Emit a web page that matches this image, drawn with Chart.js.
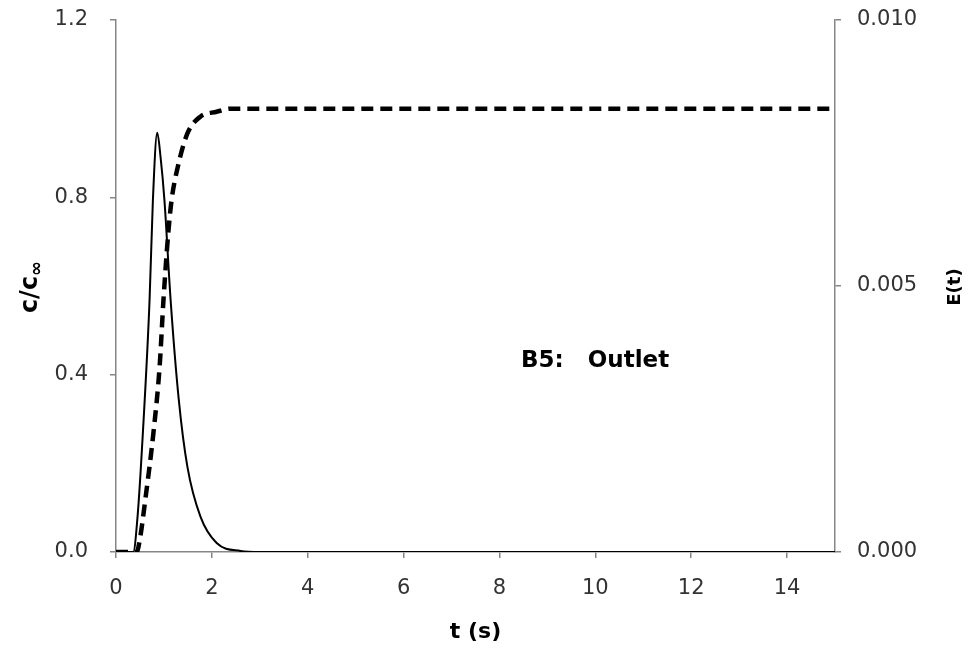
<!DOCTYPE html>
<html>
<head>
<meta charset="utf-8">
<script src="https://cdn.jsdelivr.net/npm/chart.js@4/dist/chart.umd.min.js"></script>
<style>
  html, body { margin: 0; padding: 0; background: #fff; }
  #wrap { width: 970px; height: 655px; position: relative; }
</style>
</head>
<body>
<div id="wrap"><canvas id="chart"></canvas></div>
<script>
// concentration step response c/c∞ (left axis)
var cTime  = [0, 0.43, 0.5, 0.61, 0.78, 0.91, 0.99, 1.09, 1.16, 1.29, 1.49, 1.76, 2.1, 2.4, 15];
var cRatio = [0, 0, 0.03, 0.117, 0.268, 0.418, 0.568, 0.719, 0.794, 0.869, 0.944, 0.982, 0.993, 1.0, 1.0];

// residence time distribution E(t) (right axis)
var eTime  = [0, 0.36, 0.45, 0.56, 0.70, 0.77, 0.86, 0.93, 1.01, 1.14, 1.31, 1.49, 1.76, 2.1, 2.6, 3, 15];
var eValue = [0, 0, 0.00067, 0.00223, 0.00473, 0.00662, 0.00788, 0.00742, 0.00662, 0.00473, 0.00286, 0.00160, 0.00067, 0.00017, 0.00002, 0, 0];

var xTicks = [0, 2, 4, 6, 8, 10, 12, 14];
var leftTicks = [0, 0.4, 0.8, 1.2];
var rightTicks = [0, 0.005, 0.010];

var axisGray = '#868686';
var labelColor = '#333333';
var fontFamily = '"DejaVu Sans", sans-serif';

function toPoints(xs, ys) {
    var pts = [];
    for (var i = 0; i < xs.length; i++) {
        pts.push({ x: xs[i], y: ys[i] });
    }
    return pts;
}

function fixedTicks(list) {
    return function (scale) {
        scale.ticks = list.map(function (v) { return { value: v }; });
    };
}

// fixed axis width, and no extra room above/below for the tick labels
function fitVertical(width) {
    return function (scale) {
        scale.width = width;
        scale.paddingTop = 0;
        scale.paddingBottom = 0;
    };
}

// axis titles and the in-plot note, drawn by hand
var titlesPlugin = {
    id: 'titles',
    afterDraw: function (chart) {
        var ctx = chart.ctx;
        var area = chart.chartArea;
        var xs = chart.scales.x;
        var ys = chart.scales.y;

        ctx.save();
        ctx.fillStyle = '#000';

        // left title: c/c∞, read bottom to top
        ctx.save();
        ctx.translate(37, 287);
        ctx.rotate(-Math.PI / 2);
        ctx.textBaseline = 'alphabetic';
        ctx.textAlign = 'left';
        var main = 'c/c';
        ctx.font = 'bold 24px ' + fontFamily;
        var wMain = ctx.measureText(main).width;
        ctx.font = 'bold 18px ' + fontFamily;
        var wSub = ctx.measureText('\u221E').width;
        var start = -(wMain + wSub) / 2;
        ctx.font = 'bold 24px ' + fontFamily;
        ctx.fillText(main, start, 0);
        ctx.font = 'bold 18px ' + fontFamily;
        ctx.fillText('\u221E', start + wMain, 5);
        ctx.restore();

        // right title: E(t), also read bottom to top
        ctx.save();
        ctx.translate(960, 287);
        ctx.rotate(-Math.PI / 2);
        ctx.font = 'bold 18px ' + fontFamily;
        ctx.textAlign = 'center';
        ctx.textBaseline = 'alphabetic';
        ctx.fillText('E(t)', 0, 0);
        ctx.restore();

        // bottom title
        ctx.font = 'bold 22px ' + fontFamily;
        ctx.textAlign = 'center';
        ctx.textBaseline = 'middle';
        ctx.fillText('t (s)', (area.left + area.right) / 2, 632);

        // note inside the plot
        ctx.font = 'bold 23px ' + fontFamily;
        ctx.textAlign = 'left';
        ctx.textBaseline = 'alphabetic';
        ctx.fillText('B5:   Outlet', xs.getPixelForValue(8.45), ys.getPixelForValue(0.417));

        ctx.restore();
    }
};

var ctx = document.getElementById('chart');

new Chart(ctx, {
    type: 'scatter',
    data: {
        datasets: [{
            label: 'c/c\u221E',
            data: toPoints(cTime, cRatio),
            yAxisID: 'y',
            showLine: true,
            borderColor: '#000',
            borderWidth: 4.5,
            borderDash: [12, 7],
            pointRadius: 0,
            cubicInterpolationMode: 'monotone',
            fill: false
        }, {
            label: 'E(t)',
            data: toPoints(eTime, eValue),
            yAxisID: 'y2',
            showLine: true,
            borderColor: '#000',
            borderWidth: 2,
            pointRadius: 0,
            cubicInterpolationMode: 'monotone',
            fill: false
        }]
    },
    options: {
        responsive: true,
        maintainAspectRatio: false,
        animation: false,
        layout: { padding: { top: 20, left: 0, right: 0, bottom: 0 } },
        plugins: {
            legend: { display: false },
            tooltip: { enabled: false }
        },
        scales: {
            x: {
                type: 'linear',
                min: 0,
                max: 15,
                afterBuildTicks: fixedTicks(xTicks),
                afterFit: function (scale) { scale.height = 103; },
                border: { color: axisGray, width: 1.5 },
                grid: { drawOnChartArea: false, color: axisGray, tickLength: 6, lineWidth: 1.5 },
                ticks: {
                    color: labelColor,
                    padding: 18,
                    maxRotation: 0,
                    font: { family: fontFamily, size: 21 },
                    callback: function (v) { return String(v); }
                }
            },
            y: {
                type: 'linear',
                position: 'left',
                min: 0,
                max: 1.2,
                afterBuildTicks: fixedTicks(leftTicks),
                afterFit: fitVertical(116),
                border: { color: axisGray, width: 1.5 },
                grid: { drawOnChartArea: false, color: axisGray, tickLength: 6, lineWidth: 1.5 },
                ticks: {
                    color: labelColor,
                    padding: 22,
                    font: { family: fontFamily, size: 21 },
                    callback: function (v) { return Number(v).toFixed(1); }
                }
            },
            y2: {
                type: 'linear',
                position: 'right',
                min: 0,
                max: 0.010,
                afterBuildTicks: fixedTicks(rightTicks),
                afterFit: fitVertical(135),
                border: { color: axisGray, width: 1.5 },
                grid: { drawOnChartArea: false, color: axisGray, tickLength: 6, lineWidth: 1.5 },
                ticks: {
                    color: labelColor,
                    padding: 16,
                    font: { family: fontFamily, size: 21 },
                    callback: function (v) { return Number(v).toFixed(3); }
                }
            }
        }
    },
    plugins: [titlesPlugin]
});
</script>
</body>
</html>
